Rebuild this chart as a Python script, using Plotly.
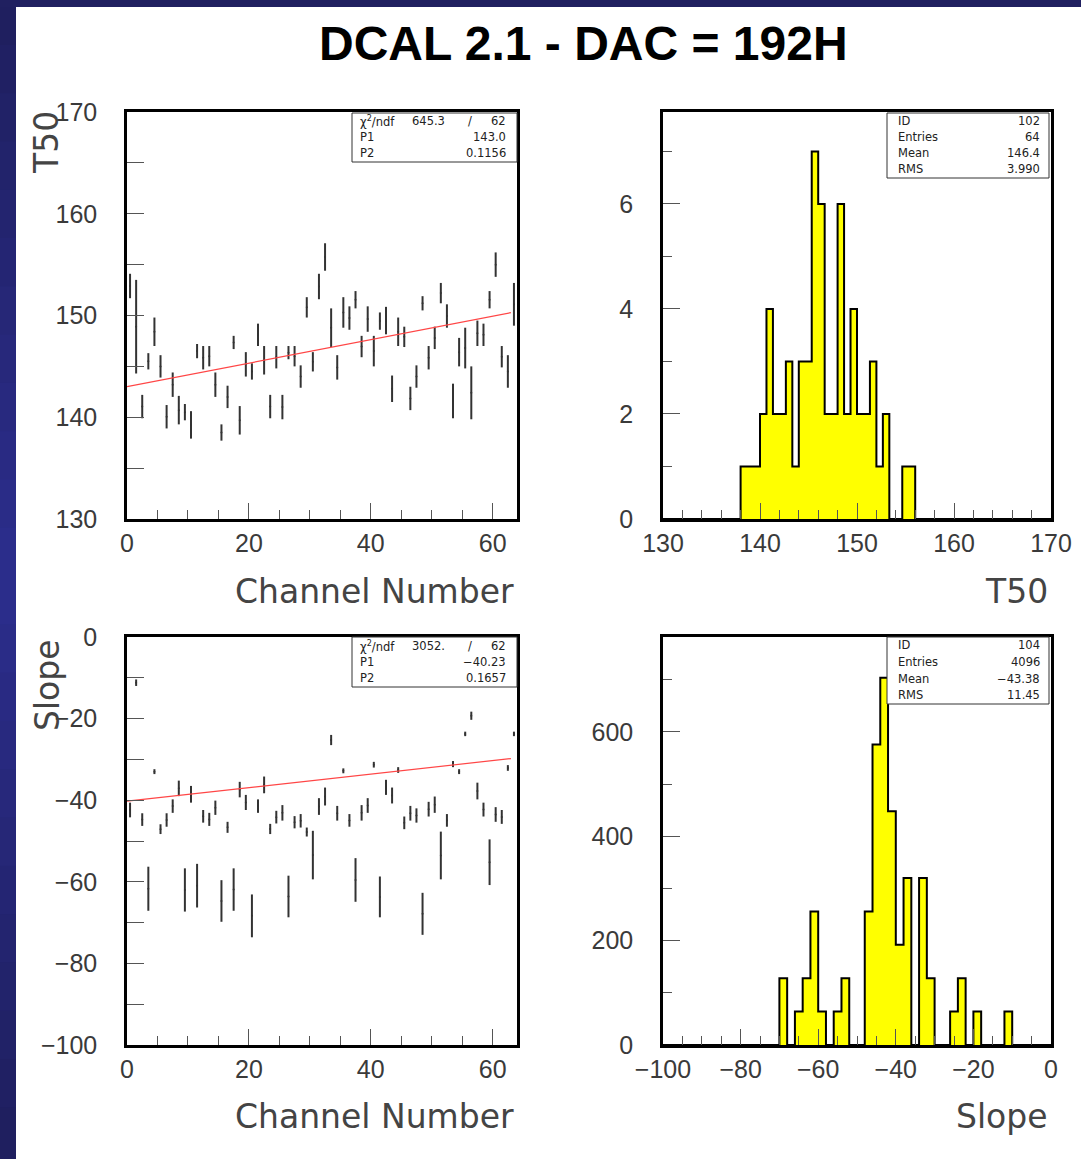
import plotly.graph_objects as go

W, H = 1081, 1159

# ---------------- data ----------------
channels = list(range(64))

t50_vals = [152.9, 148.9, 141.05, 145.5, 148.4, 145.0, 140.05, 143.2, 140.7, 140.5,
            139.25, 146.5, 145.85, 146.0, 143.2, 138.5, 142.0, 147.35, 139.7, 145.2,
            144.5, 148.1, 145.6, 141.05, 145.9, 141.0, 146.35, 146.0, 144.0, 150.8,
            145.45, 152.85, 155.75, 148.8, 144.9, 150.3, 149.75, 151.55, 146.95, 149.65,
            146.5, 149.45, 149.5, 142.8, 148.4, 147.9, 141.85, 144.0, 151.2, 145.85,
            147.8, 152.2, 149.95, 141.6, 146.4, 146.8, 142.4, 148.25, 148.1, 151.55,
            155.0, 145.95, 144.5, 151.1]
t50_errs = [1.2, 4.6, 1.15, 0.8, 1.4, 1.1, 1.15, 1.2, 1.4, 0.8,
            1.35, 0.7, 1.15, 1.0, 1.2, 0.8, 1.1, 0.65, 1.4, 1.2,
            0.8, 1.1, 1.4, 1.15, 1.1, 1.2, 0.65, 1.0, 1.1, 1.0,
            0.95, 1.25, 1.35, 1.9, 1.2, 1.5, 1.15, 0.85, 1.05, 1.25,
            1.5, 0.85, 1.35, 1.3, 1.4, 1.0, 1.15, 1.1, 0.7, 1.15,
            1.1, 1.0, 1.15, 1.7, 1.4, 2.0, 2.6, 1.25, 1.1, 0.85,
            1.2, 1.05, 1.6, 2.1]

slope_vals = [-42.4, -11.2, -44.75, -61.7, -33.0, -47.1, -44.85, -41.45, -37.1, -62.0,
              -38.55, -60.95, -43.95, -44.7, -41.85, -64.7, -46.65, -61.9, -37.4, -40.55,
              -68.35, -41.45, -36.25, -47.05, -44.15, -43.1, -63.6, -45.4, -45.05, -47.8,
              -53.45, -41.55, -39.1, -25.25, -43.2, -32.8, -44.95, -59.55, -43.1, -41.3,
              -31.3, -63.7, -36.85, -38.85, -32.6, -45.55, -43.2, -43.75, -67.85, -42.2,
              -41.1, -53.55, -44.95, -31.15, -33.0, -23.75, -19.3, -37.75, -42.3, -55.2,
              -43.5, -44.1, -32.1, -23.75]
slope_errs = [1.8, 0.8, 1.55, 5.4, 0.6, 1.2, 1.65, 1.65, 1.9, 5.3,
              2.05, 5.35, 1.55, 1.6, 1.75, 5.1, 1.35, 5.2, 1.9, 1.85,
              5.25, 1.65, 2.05, 1.25, 1.55, 1.9, 5.1, 1.5, 1.65, 1.1,
              5.95, 2.05, 2.2, 1.25, 1.8, 0.6, 1.55, 5.35, 1.9, 1.8,
              0.7, 5.0, 1.85, 1.95, 0.7, 1.55, 1.8, 1.75, 5.15, 1.8,
              2.0, 5.85, 1.55, 0.75, 0.6, 0.55, 1.0, 2.05, 1.7, 5.6,
              1.8, 1.7, 0.7, 0.55]

# linear fits  y = P1 + P2 * x
t50_fit = {"chi2": "645.3", "ndf": "62", "P1": 143.0, "P2": 0.1156}
slope_fit = {"chi2": "3052.", "ndf": "62", "P1": -40.23, "P2": 0.1657}

# histogram of T50 : 60 bins from 130 to 170
t50_hist_lo, t50_hist_hi, t50_nbins = 130.0, 170.0, 60
t50_counts = [0, 0, 0, 0, 0, 0, 0, 0, 0, 0,
              0, 0, 1, 1, 1, 2, 4, 2, 2, 3,
              1, 3, 3, 7, 6, 2, 2, 6, 2, 4,
              2, 2, 3, 1, 2, 0, 0, 1, 1, 0,
              0, 0, 0, 0, 0, 0, 0, 0, 0, 0,
              0, 0, 0, 0, 0, 0, 0, 0, 0, 0]
t50_stats = [("ID", "102"), ("Entries", "64"), ("Mean", "146.4"), ("RMS", "3.990")]

# histogram of slope : 50 bins from -100 to 0
slope_hist_lo, slope_hist_hi, slope_nbins = -100.0, 0.0, 50
slope_counts = [0, 0, 0, 0, 0, 0, 0, 0, 0, 0,
                0, 0, 0, 0, 0, 128, 0, 64, 128, 256,
                64, 0, 64, 128, 0, 0, 256, 576, 704, 448,
                192, 320, 0, 320, 128, 0, 0, 64, 128, 0,
                64, 0, 0, 0, 64, 0, 0, 0, 0, 0]
slope_stats = [("ID", "104"), ("Entries", "4096"), ("Mean", "\u221243.38"), ("RMS", "11.45")]

title = "DCAL 2.1 - DAC = 192H"

# ---------------- helpers ----------------
def px(x):
    return x / W

def py(y):
    return 1 - y / H

TICKFONT = dict(family="Liberation Sans", size=25, color="#3a3a3a")
TITLEFONT = dict(family="DejaVu Sans", size=33, color="#444444")
STATFONT = dict(family="DejaVu Sans", size=11.5, color="#222222")
TICKCOL = "#555555"

fig = go.Figure()

pos = [c + 0.5 for c in channels]

def add_profile(vals, errs, fit, xa, ya):
    fig.add_trace(go.Scatter(
        x=pos, y=vals, mode="markers", xaxis=xa, yaxis=ya,
        marker=dict(size=2, color="#333333"),
        error_y=dict(type="data", array=errs, visible=True, thickness=2,
                     width=0, color="#333333"),
        showlegend=False, hoverinfo="skip"))
    x0, x1 = 0.0, 63.0
    fig.add_trace(go.Scatter(
        x=[x0, x1], y=[fit["P1"] + fit["P2"] * x0, fit["P1"] + fit["P2"] * x1],
        mode="lines", xaxis=xa, yaxis=ya,
        line=dict(color="rgb(255,70,70)", width=1.2),
        showlegend=False, hoverinfo="skip"))

def add_hist(counts, lo, hi, nb, xa, ya):
    bw = (hi - lo) / nb
    xs = [lo + i * bw for i in range(nb)] + [hi]
    ys = list(counts) + [counts[-1]]
    fig.add_trace(go.Scatter(
        x=xs, y=ys, mode="lines", line_shape="hv", xaxis=xa, yaxis=ya,
        fill="tozeroy", fillcolor="#ffff00",
        line=dict(color="black", width=2),
        showlegend=False, hoverinfo="skip"))

add_profile(t50_vals, t50_errs, t50_fit, "x", "y")
add_hist(t50_counts, t50_hist_lo, t50_hist_hi, t50_nbins, "x2", "y2")
add_profile(slope_vals, slope_errs, slope_fit, "x3", "y3")
add_hist(slope_counts, slope_hist_lo, slope_hist_hi, slope_nbins, "x4", "y4")

def axis(domain, rng, dtick, mdtick, ticklen, mlen, anchor, standoff):
    return dict(domain=domain, range=rng, dtick=dtick, tick0=0, anchor=anchor,
                ticks="inside", ticklen=ticklen, tickwidth=1, tickcolor=TICKCOL,
                minor=dict(dtick=mdtick, ticks="inside", ticklen=mlen,
                           tickwidth=1, tickcolor=TICKCOL, showgrid=False),
                showline=True, mirror=True, linewidth=2.5, linecolor="black",
                showgrid=False, zeroline=False, tickfont=TICKFONT,
                ticklabelstandoff=standoff, automargin=False, fixedrange=True)

LX = [px(127), px(517)]
RX = [px(663), px(1051)]
TY = [py(519), py(112)]
BY = [py(1045), py(637)]

fig.update_layout(
    width=W, height=H,
    margin=dict(l=0, r=0, t=0, b=0),
    paper_bgcolor="white", plot_bgcolor="white",
    xaxis=axis(LX, [0, 64], 20, 5, 16, 9, "y", 0),
    yaxis=axis(TY, [130, 170], 10, 5, 17, 17, "x", 22),
    xaxis2=axis(RX, [130, 170], 10, 2, 16, 9, "y2", 0),
    yaxis2=axis(TY, [0, 7.75], 2, 1, 17, 9, "x2", 22),
    xaxis3=axis(LX, [0, 64], 20, 5, 16, 9, "y3", 0),
    yaxis3=axis(BY, [-100, 0], 20, 10, 17, 17, "x3", 22),
    xaxis4=axis(RX, [-100, 0], 20, 5, 16, 9, "y4", 0),
    yaxis4=axis(BY, [0, 782], 200, 100, 17, 9, "x4", 22),
)

shapes = []
annotations = []

# slide background strips (dark blue)
nseg = 24
top_c, mid_c = (31, 31, 93), (44, 46, 142)
shapes.append(dict(type="rect", xref="paper", yref="paper", layer="below",
                   x0=0, x1=px(16), y0=0, y1=1,
                   fillcolor="rgb(38,38,118)", line=dict(width=0)))
for i in range(nseg):
    t = (i + 0.5) / nseg
    f = 1 - abs(2 * t - 1)
    c = tuple(int(top_c[k] + (mid_c[k] - top_c[k]) * f) for k in range(3))
    shapes.append(dict(type="rect", xref="paper", yref="paper", layer="below",
                       x0=0, x1=px(16), y0=1 - i / nseg + 0.003,
                       y1=1 - (i + 1) / nseg - 0.003,
                       fillcolor="rgb(%d,%d,%d)" % c, line=dict(width=0)))
shapes.append(dict(type="rect", xref="paper", yref="paper", layer="below",
                   x0=0, x1=1, y0=py(7), y1=1,
                   fillcolor="rgb(32,32,96)", line=dict(width=0)))

def stat_box(x0, x1, y0, y1, rows, row_ys, lx, rx, mid=None):
    shapes.append(dict(type="rect", xref="paper", yref="paper",
                       x0=px(x0), x1=px(x1), y0=py(y1), y1=py(y0),
                       fillcolor="white", line=dict(color="#333333", width=1)))
    for (lab, val), yy in zip(rows, row_ys):
        annotations.append(dict(text=lab, x=px(lx), y=py(yy), xref="paper", yref="paper",
                                xanchor="left", yanchor="middle", showarrow=False,
                                font=STATFONT))
        annotations.append(dict(text=val, x=px(rx), y=py(yy), xref="paper", yref="paper",
                                xanchor="right", yanchor="middle", showarrow=False,
                                font=STATFONT))
    if mid:
        for txt, xx, yy in mid:
            annotations.append(dict(text=txt, x=px(xx), y=py(yy), xref="paper", yref="paper",
                                    xanchor="right", yanchor="middle", showarrow=False,
                                    font=STATFONT))

stat_box(352, 517, 113, 162,
         [("\u03c7<sup>2</sup>/ndf", t50_fit["ndf"]), ("P1", "%.1f" % t50_fit["P1"]),
          ("P2", "%.4f" % t50_fit["P2"])],
         [121, 137, 153], 358, 508,
         mid=[(t50_fit["chi2"], 447, 121), ("/", 474, 121)])
stat_box(352, 517, 637, 687,
         [("\u03c7<sup>2</sup>/ndf", slope_fit["ndf"]),
          ("P1", ("%.2f" % slope_fit["P1"]).replace("-", "\u2212")),
          ("P2", "%.4f" % slope_fit["P2"])],
         [646, 662, 678], 358, 508,
         mid=[(slope_fit["chi2"], 447, 646), ("/", 474, 646)])
stat_box(887, 1049, 113, 178, t50_stats, [121, 137, 153, 169], 896, 1042)
stat_box(887, 1049, 637, 704, slope_stats, [645, 662, 679, 695], 896, 1042)

# title
annotations.append(dict(text=title, x=px(583), y=py(43), xref="paper", yref="paper",
                        xanchor="center", yanchor="middle", showarrow=False,
                        font=dict(family="Liberation Sans", size=48, color="black",
                                  weight="bold")))

# axis titles
def title_ann(text, x, y, xanchor, angle=0):
    annotations.append(dict(text=text, x=px(x), y=py(y), xref="paper", yref="paper",
                            xanchor=xanchor, yanchor="middle", showarrow=False,
                            textangle=angle, font=TITLEFONT))

title_ann("Channel Number", 516, 591, "right")
title_ann("T50", 1050, 591, "right")
title_ann("Channel Number", 516, 1116, "right")
title_ann("Slope", 1050, 1116, "right")
title_ann("T50", 47, 143, "center", -90)
title_ann("Slope", 47, 685, "center", -90)

fig.update_layout(shapes=shapes, annotations=annotations)

fig.write_html("out.html")
